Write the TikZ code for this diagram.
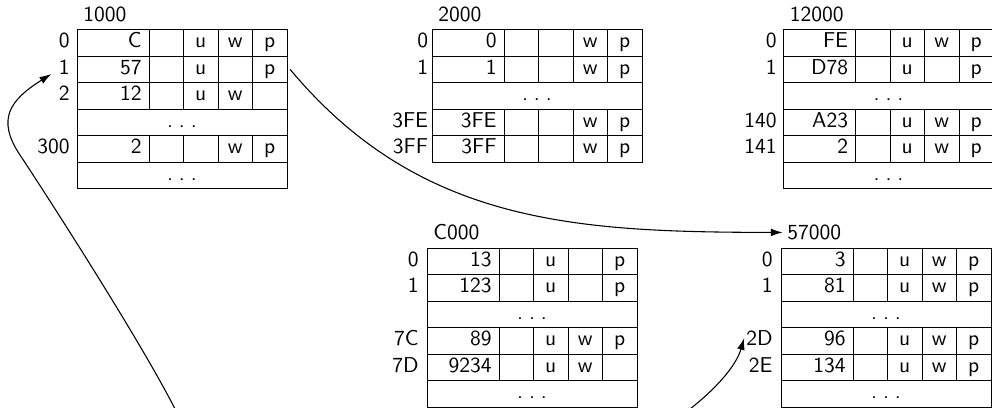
\documentclass[tikz,border=0pt]{standalone}
\usetikzlibrary{arrows.meta}
\tikzset{
  grid/.style={draw=black, line width=0.45pt},
  lbl/.style={anchor=base east, inner sep=3.3pt},
  val/.style={anchor=base east, inner sep=0pt},
  flag/.style={anchor=base, inner sep=0pt},
  ttl/.style={anchor=base west, inner sep=2pt},
  conn/.style={-{Latex[length=5.5pt,width=3.6pt]}, line width=0.5pt},
}
\newcommand\tabset[4]{\def\tx{#1}\def\ty{#2}\def\tn{#3}\def\tg{#4}}
\newcommand\ptitle[1]{\node[ttl] (\tn) at (\tx+1.7,\ty-8.5) {#1};}
\newcommand\prow[6]{%
  \pgfmathsetmacro\rt{\ty+26.5*#1}%
  \draw[grid] (\tx,\rt) rectangle ++(210,26.5);
  \foreach \c in {72,106.5,141,175.5} \draw[grid] (\tx+\c,\rt) -- ++(0,26.5);
  \node[lbl] (\tn-#2) at (\tx-\tg+7.1,\rt+18) {#2};
  \node[val] (\tn-#2-v) at (\tx+65,\rt+18) {#3};
  \node[flag] (\tn-#2-u) at (\tx+123.75,\rt+18) {#4};
  \node[flag] (\tn-#2-w) at (\tx+158.25,\rt+18) {#5};
  \node[flag] (\tn-#2-p) at (\tx+192.75,\rt+18) {#6};
  \coordinate (\tn-#2-r) at (\tx+213,\rt+13.25);
}
\newcommand\pdots[1]{%
  \pgfmathsetmacro\rt{\ty+26.5*#1}%
  \draw[grid] (\tx,\rt) rectangle ++(210,26.5);
  \node[flag] (\tn-dots#1) at (\tx+105,\rt+18) {.\kern2.7pt.\kern2.7pt.};
}
\begin{document}
\begin{tikzpicture}[x=0.465pt, y=-0.465pt, font=\sffamily]
\clip (0,0) rectangle (992,407);

\tabset{77}{29.5}{t1000}{7}
\ptitle{1000}
\prow{0}{0}{C}{u}{w}{p}
\prow{1}{1}{57}{u}{}{p}
\prow{2}{2}{12}{u}{w}{}
\pdots{3}
\prow{4}{300}{2}{}{w}{p}
\pdots{5}

\tabset{432}{29.5}{t2000}{3.5}
\ptitle{2000}
\prow{0}{0}{0}{}{w}{p}
\prow{1}{1}{1}{}{w}{p}
\pdots{2}
\prow{3}{3FE}{3FE}{}{w}{p}
\prow{4}{3FF}{3FF}{}{w}{p}

\tabset{783.5}{29.5}{t12000}{6.5}
\ptitle{12000}
\prow{0}{0}{FE}{u}{w}{p}
\prow{1}{1}{D78}{u}{}{p}
\pdots{2}
\prow{3}{140}{A23}{u}{w}{p}
\prow{4}{141}{2}{u}{w}{p}
\pdots{5}

\tabset{427}{248}{tC000}{8}
\ptitle{C000}
\prow{0}{0}{13}{u}{}{p}
\prow{1}{1}{123}{u}{}{p}
\pdots{2}
\prow{3}{7C}{89}{u}{w}{p}
\prow{4}{7D}{9234}{u}{w}{}
\pdots{5}

\tabset{781}{248}{t57000}{8}
\ptitle{57000}
\prow{0}{0}{3}{u}{w}{p}
\prow{1}{1}{81}{u}{w}{p}
\pdots{2}
\prow{3}{2D}{96}{u}{w}{p}
\prow{4}{2E}{134}{u}{w}{p}
\pdots{5}

\coordinate (src1) at (185,430);
\coordinate (src2) at (672,422);
\draw[conn] (t1000-1-r) .. controls (420,225) and (578,232) .. (t57000.west);
\draw[conn] (src1) .. controls (160,370) and (40,185) .. (20,155)
  .. controls (-4,119) and (10,100) .. (t1000-1.base west);
\draw[conn] (src2) .. controls (705,400) and (735,370) .. ([xshift=2.5pt]t57000-2D.west);
\end{tikzpicture}
\end{document}
